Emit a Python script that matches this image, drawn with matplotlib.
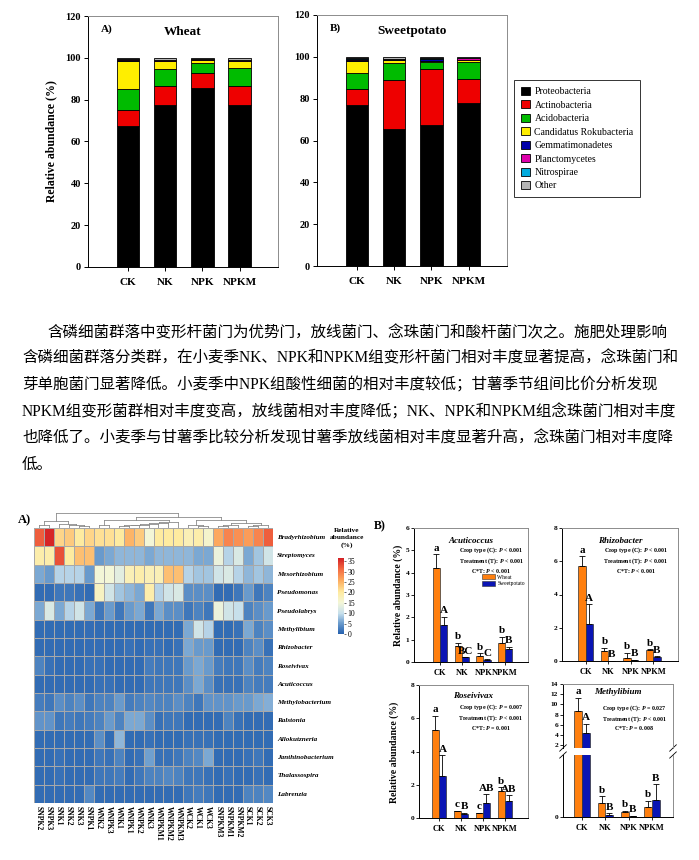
import numpy as np
import matplotlib.pyplot as plt
from matplotlib.colors import LinearSegmentedColormap
from matplotlib.patches import Patch

plt.rcParams['font.family'] = ['Liberation Serif', 'DejaVu Sans']
plt.rcParams['font.weight'] = 'bold'
plt.rcParams['mathtext.fontset'] = 'custom'
plt.rcParams['mathtext.it'] = 'Liberation Serif:italic:bold'
plt.rcParams['mathtext.rm'] = 'Liberation Serif:bold'

# ---------------- data ----------------
treatments = ['CK', 'NK', 'NPK', 'NPKM']
phyla = ['Proteobacteria', 'Actinobacteria', 'Acidobacteria', 'Candidatus Rokubacteria',
         'Gemmatimonadetes', 'Planctomycetes', 'Nitrospirae', 'Other']
phylum_colors = ['#000000', '#EE0000', '#00BB00', '#FFEE00',
                 '#0000AA', '#DD00AA', '#00AADD', '#B4B4B4']

# rows = phyla, cols = CK, NK, NPK, NPKM  (%)
wheat_abund = [
    [67.6, 77.5, 85.6, 77.5],
    [7.4, 8.8, 7.2, 8.8],
    [10.0, 8.3, 4.8, 8.9],
    [13.4, 3.8, 1.3, 3.2],
    [0.8, 0.3, 0.3, 0.3],
    [0.2, 0.2, 0.2, 0.2],
    [0.1, 0.1, 0.1, 0.1],
    [0.5, 1.0, 0.5, 1.0],
]
sweet_abund = [
    [76.8, 65.3, 67.3, 78.0],
    [7.7, 23.7, 26.8, 11.3],
    [7.7, 8.0, 3.2, 8.1],
    [5.6, 1.6, 0.8, 1.0],
    [0.8, 0.3, 0.9, 0.3],
    [0.6, 0.2, 0.2, 0.8],
    [0.1, 0.1, 0.1, 0.1],
    [0.7, 0.8, 0.7, 0.4],
]

text_lines = [
    '含磷细菌群落中变形杆菌门为优势门，放线菌门、念珠菌门和酸杆菌门次之。施肥处理影响',
    '含磷细菌群落分类群，在小麦季NK、NPK和NPKM组变形杆菌门相对丰度显著提高，念珠菌门和',
    '芽单胞菌门显著降低。小麦季中NPK组酸性细菌的相对丰度较低；甘薯季节组间比价分析发现',
    'NPKM组变形菌群相对丰度变高，放线菌相对丰度降低；NK、NPK和NPKM组念珠菌门相对丰度',
    '也降低了。小麦季与甘薯季比较分析发现甘薯季放线菌相对丰度显著升高，念珠菌门相对丰度降',
    '低。',
]

samples = ['SNPK2', 'SNPK3', 'SNK1', 'SNK2', 'SNK3', 'SNPK1', 'WNK2', 'WNPK3', 'WNK1',
           'WNPK1', 'WNPK2', 'WNK3', 'WNPKM1', 'WNPKM2', 'WNPKM3', 'WCK2', 'WCK1', 'WCK3',
           'SNPKM3', 'SNPKM1', 'SNPKM2', 'SCK1', 'SCK2', 'SCK3']
genera = ['Bradyrhizobium', 'Streptomyces', 'Mesorhizobium', 'Pseudomonas', 'Pseudolabrys',
          'Methylibium', 'Rhizobacter', 'Roseivivax', 'Acuticoccus', 'Methylobacterium',
          'Ralstonia', 'Allokutzneria', 'Janthinobacterium', 'Thalassospira', 'Labrenzia']
heat = [
    [32, 36, 22, 23, 20, 22, 21, 21, 20, 25, 23, 15, 20, 20, 20, 18, 19, 16, 26, 29, 28, 27, 29, 32],
    [19, 19, 33, 20, 24, 24, 5, 6, 7, 7, 7, 6, 7, 7, 7, 7, 6, 6, 14, 9, 12, 6, 8, 11],
    [6, 5, 9, 9, 9, 5, 15, 15, 13, 18, 19, 18, 18, 24, 24, 9, 8, 8, 11, 12, 9, 7, 8, 7],
    [1, 1, 2, 2, 1.5, 1, 17, 11, 8, 7, 6, 19, 9, 11, 12, 4, 4, 4, 1, 1, 2, 5, 2, 3],
    [6, 12, 6, 9, 11, 6, 2, 5, 2, 5, 6, 2, 6, 4, 4, 2, 3, 2, 14, 11, 10, 3, 4, 5],
    [1, 1, 1, 1, 1, 1.2, 1, 1, 1, 1, 1, 1, 1, 1, 1, 6, 11, 9, 1, 1, 1.5, 6, 3, 4],
    [1, 1, 1, 1, 1, 1.2, 1.2, 1, 1, 1.5, 1, 1.5, 1.5, 1, 1.5, 6, 5, 5, 1, 1, 1, 3, 4, 1.5],
    [3, 1.5, 1, 1, 1, 1.5, 1.5, 1, 1, 1, 1, 2.5, 2, 2, 2, 5, 6, 5, 2.5, 2, 2, 4, 2.5, 3],
    [1, 1, 1, 1, 1, 1, 1.5, 1.5, 1, 1, 1, 2, 2, 2, 2, 4, 6, 4, 1.5, 1.5, 1.5, 3, 2.5, 2.5],
    [2.5, 2, 4, 3, 4, 2, 3, 3, 5, 2.5, 3, 3.5, 3, 3, 4, 3, 2, 4.5, 4.5, 4.5, 5, 5, 6, 6.5],
    [4.5, 4.5, 2, 2.5, 2, 2.5, 3, 5, 3, 6, 6, 4, 1.5, 2, 2, 1, 1, 1, 1, 3, 1.5, 1, 1, 1],
    [1, 1, 1, 1, 1, 1, 4, 1, 7, 1, 1, 1.5, 1, 1, 1, 1.5, 1.5, 1.5, 1, 1, 1, 1, 1, 1],
    [1, 1, 1.5, 1, 1, 1, 2, 1.5, 3, 1, 1.5, 5.5, 1.5, 1.5, 2, 3, 3.5, 6, 1, 1, 1, 1.5, 2, 1],
    [1, 1, 1.5, 1, 1, 1, 2, 2, 2.5, 1, 2, 3, 3, 3.5, 3, 2, 2, 1.5, 1, 1.5, 1, 1, 1.5, 1],
    [1, 1, 1, 1, 1, 3.5, 1, 1, 1, 1, 1, 1, 1, 1, 1, 2, 2.5, 2, 1, 1, 1, 3, 3, 3.5],
]
# column dendrogram: (child a, child b, height); new nodes numbered from 24
col_merges = [
    (0, 1, 8), (4, 5, 6), (3, 25, 9), (2, 26, 12), (24, 27, 20),
    (6, 7, 10), (8, 9, 5), (30, 10, 8), (31, 11, 10), (32, 12, 12), (33, 13, 14),
    (34, 14, 16), (29, 35, 24),
    (16, 17, 6), (15, 37, 10), (18, 19, 6), (39, 20, 9), (21, 22, 7), (41, 23, 10),
    (40, 42, 15), (38, 43, 22),
    (36, 44, 32), (28, 45, 42),
]

# genus panels: wheat mean, wheat err, sweet mean, sweet err, letters
acut_w, acut_we = [4.2, 0.7, 0.28, 0.83], [0.63, 0.16, 0.12, 0.3]
acut_s, acut_se = [1.65, 0.22, 0.08, 0.58], [0.37, 0.0, 0.05, 0.1]
acut_lw, acut_ls = ['a', 'b', 'b', 'b'], ['A', 'BC', 'C', 'B']
acut_stats = ['< 0.001', '< 0.001', '< 0.001']

rhiz_w, rhiz_we = [5.7, 0.6, 0.2, 0.65], [0.62, 0.2, 0.3, 0.05]
rhiz_s, rhiz_se = [2.22, 0.02, 0.08, 0.25], [1.18, 0.0, 0.0, 0.05]
rhiz_lw, rhiz_ls = ['a', 'b', 'b', 'b'], ['A', 'B', 'B', 'B']
rhiz_stats = ['< 0.001', '< 0.001', '< 0.001']

rose_w, rose_we = [5.3, 0.4, 0.33, 1.62], [0.86, 0.05, 0.0, 0.22]
rose_s, rose_se = [2.54, 0.22, 0.88, 1.0], [1.22, 0.1, 0.55, 0.38]
rose_lw, rose_ls = ['a', 'c', 'c', 'b'], ['A', 'B', 'AB', 'AB']
rose_stats = ['= 0.007', '< 0.001', '= 0.001']

meth_w, meth_we = [8.6, 0.18, 0.06, 0.13], [2.7, 0.09, 0.02, 0.08]
meth_s, meth_se = [4.4, 0.03, 0.01, 0.22], [1.8, 0.02, 0.005, 0.2]
meth_lw, meth_ls = ['a', 'b', 'b', 'b'], ['A', 'B', 'B', 'B']
meth_stats = ['= 0.027', '< 0.001', '= 0.008']

# ---------------- layout helpers ----------------
W, H = 699, 860
fig = plt.figure(figsize=(W / 100, H / 100), dpi=100)


def rect(l, t, r, b):
    return [l / W, 1 - b / H, (r - l) / W, (b - t) / H]


def ftext(x, y, s, **kw):
    fig.text(x / W, 1 - y / H, s, **kw)


def frame(ax):
    for s in ['top', 'right']:
        ax.spines[s].set_color('#8c8c8c')
    for s in ax.spines.values():
        s.set_linewidth(0.7)


# ---------------- top: stacked bars ----------------
def stacked_panel(box, data, title, tag):
    ax = fig.add_axes(rect(*box))
    x = np.arange(len(treatments))
    bottom = np.zeros(len(treatments))
    for vals, color, name in zip(data, phylum_colors, phyla):
        vals = np.array(vals)
        ax.bar(x, vals, 0.6, bottom=bottom, color=color, edgecolor='black',
               linewidth=0.6, label=name)
        bottom += vals
    ax.set_xlim(-1.07, 4.03)
    ax.set_ylim(0, 120)
    ax.set_yticks(range(0, 121, 20))
    ax.set_xticks(x, treatments)
    ax.tick_params(direction='out', length=3, width=0.7, labelsize=7.5, pad=2)
    ax.tick_params(axis='x', labelsize=8, pad=5)
    frame(ax)
    ax.text(0.07, 0.965, tag, transform=ax.transAxes, fontsize=8, va='top')
    ax.text(0.5, 0.96, title, transform=ax.transAxes, fontsize=9.5, ha='center', va='top')
    return ax


stacked_panel((88, 16, 278, 267), wheat_abund, 'Wheat', 'A)')
ax_sp = stacked_panel((317, 15, 507, 266), sweet_abund, 'Sweetpotato', 'B)')
ftext(51, 141, 'Relative abundance (%)', rotation=90, ha='center', va='center', fontsize=8.5)

handles = [Patch(facecolor=c, edgecolor='black', linewidth=0.6) for c in phylum_colors]
leg = fig.legend(handles, phyla, loc='upper left', bbox_to_anchor=(514 / W, 1 - 80 / H),
                 fontsize=7, frameon=True, fancybox=False, edgecolor='black',
                 handlelength=0.9, handleheight=0.9, handletextpad=0.5,
                 labelspacing=0.42, borderpad=0.7, borderaxespad=0,
                 prop={'family': 'Liberation Serif', 'weight': 'normal', 'size': 7})
leg.get_frame().set_linewidth(0.7)

# ---------------- middle: Chinese paragraph ----------------
line_y = [333, 359, 386, 412, 439, 465]
for i, (line, y) in enumerate(zip(text_lines, line_y)):
    ftext(47 if i == 0 else 22, y, line, fontsize=11.2, va='center', ha='left',
          fontweight='normal', family=['Liberation Serif', 'Noto Sans CJK SC'])

# ---------------- bottom left: heatmap ----------------
cmap = LinearSegmentedColormap.from_list('abund', [
    (0.0, '#2460AE'), (0.14, '#6A9BCD'), (0.27, '#C6DFEC'), (0.41, '#F3F6D8'),
    (0.55, '#FEEBA0'), (0.70, '#FDAE61'), (0.85, '#F46D43'), (1.0, '#D31F24')])

hax = fig.add_axes(rect(34, 528, 273, 803))
mesh = hax.pcolormesh(np.array(heat, dtype=float), cmap=cmap, vmin=0, vmax=36.5,
                      edgecolors='#a8a8a8', linewidth=0.5)
hax.set_xlim(0, len(samples))
hax.set_ylim(len(genera), 0)
hax.set_xticks(np.arange(len(samples)) + 0.5, samples, rotation=270, fontsize=5.5)
hax.yaxis.tick_right()
hax.set_yticks(np.arange(len(genera)) + 0.5, genera, fontsize=5.1, style='italic')
hax.tick_params(length=0, pad=2)
hax.tick_params(axis='y', pad=3)
for s in hax.spines.values():
    s.set_visible(False)

dax = fig.add_axes(rect(34, 513, 273, 528))
pos = {i: i + 0.5 for i in range(len(samples))}
hgt = {i: 0.0 for i in range(len(samples))}
for k, (a, b, h) in enumerate(col_merges):
    node = len(samples) + k
    for c in (a, b):
        dax.plot([pos[c], pos[c]], [hgt[c], h], color='#8a8a8a', lw=0.6)
    dax.plot([pos[a], pos[b]], [h, h], color='#8a8a8a', lw=0.6)
    pos[node] = (pos[a] + pos[b]) / 2
    hgt[node] = h
dax.set_xlim(0, len(samples))
dax.set_ylim(0, 43)
dax.axis('off')

cax = fig.add_axes(rect(338, 558, 344, 634))
cb = fig.colorbar(mesh, cax=cax, ticks=range(0, 36, 5))
cb.outline.set_visible(False)
cax.tick_params(labelsize=5.5, length=1.5, width=0.4, pad=1)
for t in cax.get_yticklabels():
    t.set_fontweight('normal')
ftext(347, 528, 'Relative\nabundance\n(%)', ha='center', va='top', fontsize=5.3,
      linespacing=1.5)
ftext(18, 520, 'A)', fontsize=9, ha='left', va='center')

# ---------------- bottom right: genus bar panels ----------------
ORANGE, BLUE = '#FF7F0E', '#0A14B4'
BW = 0.33


def draw_bars(ax, wv, we, sv, se):
    x = np.arange(len(treatments))
    ax.bar(x - BW / 2, wv, BW, color=ORANGE, edgecolor='#333333', linewidth=0.5)
    ax.bar(x + BW / 2, sv, BW, color=BLUE, edgecolor='#333333', linewidth=0.5)
    ax.errorbar(x - BW / 2, wv, yerr=[np.zeros(4), we], fmt='none', ecolor='black',
                elinewidth=0.6, capsize=2, capthick=0.6)
    ax.errorbar(x + BW / 2, sv, yerr=[np.zeros(4), se], fmt='none', ecolor='black',
                elinewidth=0.6, capsize=2, capthick=0.6)
    return x


def put_letters(ax, x, vals, errs, letters, offset, keep=lambda v: True):
    for xi, v, e, l in zip(x + offset, vals, errs, letters):
        if keep(v + e):
            ax.annotate(l, (xi, v + e), xytext=(0, 1), textcoords='offset points',
                        ha='center', va='bottom', fontsize=8)


def style_panel(ax, xlim):
    ax.set_xlim(*xlim)
    ax.tick_params(direction='out', length=2, width=0.6, labelsize=5.3, pad=1.5)
    ax.tick_params(axis='x', labelsize=6, pad=3)
    frame(ax)


def annotate_panel(ax, title, stats, sx, sy, ty):
    ax.text(0.5, ty, title, transform=ax.transAxes, ha='center', va='top',
            fontsize=6.5, style='italic')
    s = ('Crop type (C): $\\mathit{P}$ ' + stats[0] + '\n'
         'Treatment (T): $\\mathit{P}$ ' + stats[1] + '\n'
         'C*T: $\\mathit{P}$ ' + stats[2])
    ax.text(sx, sy, s, transform=ax.transAxes, ha='center', va='top', fontsize=4.3,
            linespacing=1.15, multialignment='center')


def bar_panel(box, xlim, ylim, ystep, wv, we, sv, se, lw, ls, title, stats, sx, sy, ty):
    ax = fig.add_axes(rect(*box))
    x = draw_bars(ax, wv, we, sv, se)
    put_letters(ax, x, wv, we, lw, -BW / 2)
    put_letters(ax, x, sv, se, ls, BW / 2)
    ax.set_ylim(*ylim)
    ax.set_yticks(np.arange(ylim[0], ylim[1] + 0.01, ystep))
    ax.set_xticks(x, treatments)
    style_panel(ax, xlim)
    annotate_panel(ax, title, stats, sx, sy, ty)
    return ax


ax_ac = bar_panel((414, 528, 528, 662), (-1.2, 4.05), (0, 6), 1, acut_w, acut_we, acut_s,
                  acut_se, acut_lw, acut_ls, 'Acuticoccus', acut_stats, 0.68, 0.87, 0.93)
ax_ac.legend([Patch(facecolor=ORANGE, edgecolor='#333333', linewidth=0.4),
              Patch(facecolor=BLUE, edgecolor='#333333', linewidth=0.4)],
             ['Wheat', 'Sweetpotato'], loc='upper left', bbox_to_anchor=(0.58, 0.67),
             frameon=False, handlelength=2.2, handleheight=0.9, labelspacing=0.25,
             handletextpad=0.5, borderaxespad=0,
             prop={'family': 'Liberation Serif', 'weight': 'normal', 'size': 4})
bar_panel((562, 528, 678, 661), (-1.05, 4.1), (0, 8), 2, rhiz_w, rhiz_we, rhiz_s,
          rhiz_se, rhiz_lw, rhiz_ls, 'Rhizobacter', rhiz_stats, 0.64, 0.87, 0.93)
bar_panel((419, 685, 528, 818), (-0.9, 4.05), (0, 8), 2, rose_w, rose_we, rose_s,
          rose_se, rose_lw, rose_ls, 'Roseivivax', rose_stats, 0.66, 0.87, 0.95)

# Methylibium: broken y axis
up = fig.add_axes(rect(563, 684, 673, 748))
lo = fig.add_axes(rect(563, 755, 673, 817))
lo_top = 0.8
for ax in (up, lo):
    x = draw_bars(ax, meth_w, meth_we, meth_s, meth_se)
    style_panel(ax, (-0.82, 3.9))
put_letters(up, x, meth_w, meth_we, meth_lw, -BW / 2, keep=lambda v: v > lo_top)
put_letters(up, x, meth_s, meth_se, meth_ls, BW / 2, keep=lambda v: v > lo_top)
put_letters(lo, x, meth_w, meth_we, meth_lw, -BW / 2, keep=lambda v: v <= lo_top)
put_letters(lo, x, meth_s, meth_se, meth_ls, BW / 2, keep=lambda v: v <= lo_top)
up.set_ylim(1.43, 14)
up.set_yticks(range(2, 15, 2))
up.set_xticks([])
up.spines['bottom'].set_visible(False)
lo.set_ylim(0, lo_top)
lo.set_yticks([0])
lo.set_xticks(x, treatments)
lo.spines['top'].set_visible(False)
annotate_panel(up, 'Methylibium', meth_stats, 0.65, 0.7, 0.93)
for ax, yb in ((up, 0.0), (lo, 1.0)):
    for xb in (0.0, 1.0):
        ax.plot([xb - 0.03, xb + 0.03], [yb - 0.05, yb + 0.05], transform=ax.transAxes,
                color='black', lw=0.6, clip_on=False)

ftext(398, 595, 'Relative abundance (%)', rotation=90, ha='center', va='center', fontsize=7)
ftext(394, 752, 'Relative abundance (%)', rotation=90, ha='center', va='center', fontsize=7)
ftext(374, 526, 'B)', fontsize=8.5, ha='left', va='center')

fig.savefig('out.png', dpi=100)
